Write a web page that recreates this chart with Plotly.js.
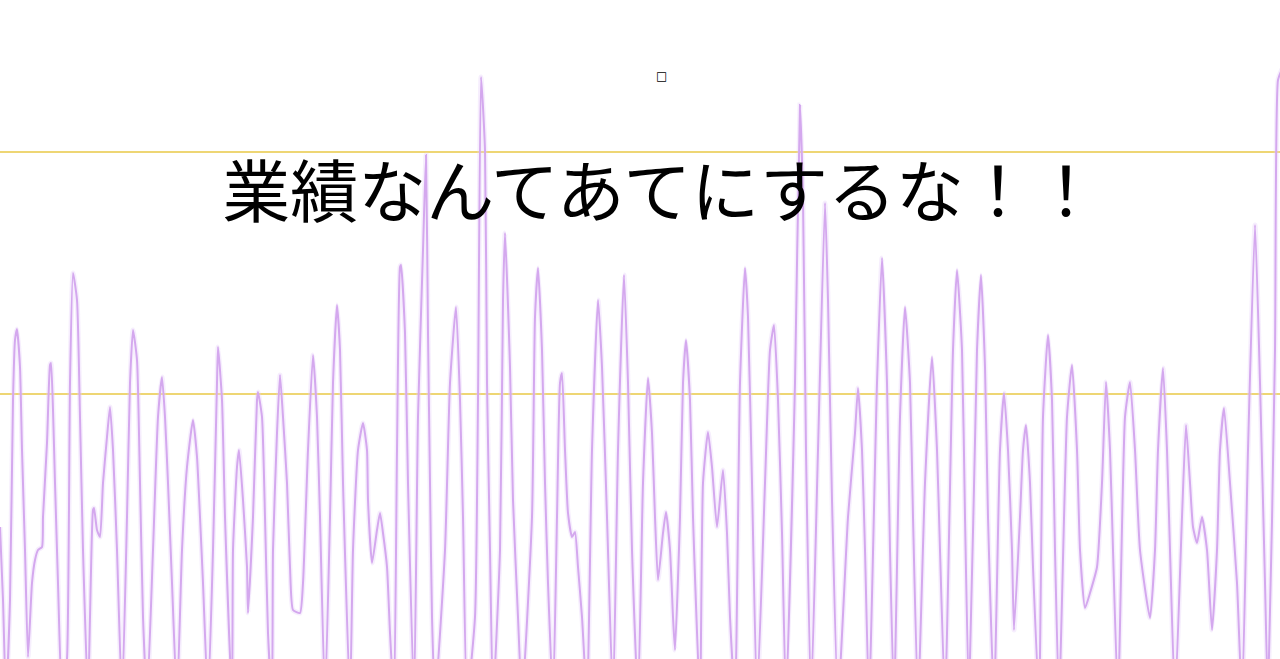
<!DOCTYPE html>
<html>
<head>
<meta charset="utf-8">
<script src="https://cdn.plot.ly/plotly-3.0.1.min.js"></script>
<style>html,body{margin:0;padding:0;background:#fff;}#chart{width:1280px;height:659px;}</style>
</head>
<body>
<div id="chart"></div>
<script>
// time positions
var t = [
  0,3,6,10,13,15,17,20,22,25,28,32,35,38,42,43,47,50,51,53,55,58,62,
  67,70,73,77,80,83,88,90,93,94,97,100,103,107,110,113,117,122,
  127,130,133,137,140,143,147,153,158,162,165,168,172,177,
  182,187,193,197,200,203,208,213,217,218,222,225,232,
  233,237,239,243,247,248,253,257,258,262,265,268,272,
  273,277,280,283,287,290,293,300,303,308,313,317,320,325,
  330,333,337,340,343,350,353,358,363,367,368,372,377,380,383,387,390,394,
  397,400,401,405,408,414,418,423,426,428,430,432,435,
  445,450,456,460,463,467,475,478,481,485,487,490,493,
  500,503,505,510,513,518,522,532,535,538,542,545,548,553,
  557,560,562,565,568,572,575,578,582,587,592,598,602,607,613,
  618,624,628,632,638,643,648,652,655,658,663,666,670,673,675,680,683,686,690,693,700,
  703,708,712,717,723,727,730,735,740,745,748,752,757,
  765,770,774,778,782,786,795,800,803,806,811,818,825,828,832,838,
  848,855,858,862,865,869,877,882,887,890,894,900,905,910,913,918,
  925,932,937,940,945,953,957,962,965,969,977,981,985,988,994,
  1000,1004,1008,1012,1014,1020,1023,1026,1030,1033,1039,1043,1048,1052,1055,1059,
  1067,1072,1077,1080,1085,1090,1097,1102,1106,1110,1113,1118,
  1125,1130,1135,1140,1150,1155,1158,1163,1167,1170,1175,
  1182,1186,1190,1193,1197,1202,1207,1212,1217,1220,1224,1230,1237,1242,
  1248,1255,1260,1265,1268,1275,1278,1282
];
// series values
var v = [
  132,59,-41,59,259,319,330,292,209,109,2,76,99,109,112,142,216,294,296,249,176,76,-41,
  0,276,386,359,242,109,-41,42,149,151,129,122,176,222,252,209,109,-41,
  142,276,329,299,176,42,-41,109,242,282,242,176,76,-41,
  109,192,239,202,142,76,-41,109,276,312,259,142,-41,
  109,192,209,159,92,46,142,259,267,242,142,26,-41,
  109,226,284,242,176,92,49,46,76,209,304,242,142,-41,
  142,276,354,309,176,-41,109,209,236,209,159,96,129,146,126,92,26,-41,
  209,392,394,326,176,-41,242,409,504,326,176,42,-41,
  109,276,352,259,142,-41,42,259,582,509,276,109,-41,
  109,359,426,292,159,42,-41,142,342,391,309,176,76,-41,
  142,276,286,209,146,122,127,92,42,-41,209,359,292,142,-41,
  209,384,276,109,-41,176,281,226,142,79,126,147,109,42,9,142,276,319,259,142,-41,
  176,227,192,132,189,126,42,-41,276,391,342,176,-41,
  176,309,334,259,126,-41,276,554,459,209,-41,209,456,359,159,-41,
  142,226,271,209,109,-41,276,401,276,109,-41,242,352,276,142,-41,
  176,302,209,109,-41,309,389,309,142,-41,309,384,292,142,-41,
  209,266,209,109,29,142,209,234,176,92,-41,242,324,259,109,-41,
  242,294,209,109,51,66,92,176,277,209,109,-41,
  242,277,209,109,41,109,209,291,209,109,-41,
  142,234,176,132,116,142,109,29,109,209,251,176,76,-41,
  209,434,276,76,-41,309,579,590
];
// reference levels (yellow lines)
var refLevels = [507, 265];
var titleText = "業績なんてあてにするな！！";
var markText = "□";

var traces = [
  {x: t, y: v, type: 'scatter', mode: 'lines', hoverinfo: 'skip',
   line: {color: 'rgba(230,205,248,0.35)', width: 5, shape: 'spline', smoothing: 0.5}},
  {x: t, y: v, type: 'scatter', mode: 'lines',
   line: {color: 'rgb(212,168,238)', width: 2, shape: 'spline', smoothing: 0.5}}
];

var shapes = refLevels.map(function (lv) {
  return {type: 'line', xref: 'paper', x0: 0, x1: 1, yref: 'y', y0: lv, y1: lv,
          line: {color: 'rgb(232,200,70)', width: 1.3}, layer: 'below'};
});

var layout = {
  width: 1280, height: 659,
  margin: {l: 0, r: 0, t: 0, b: 0, pad: 0},
  paper_bgcolor: '#ffffff', plot_bgcolor: '#ffffff',
  showlegend: false,
  xaxis: {range: [0, 1280], visible: false, fixedrange: true},
  yaxis: {range: [0, 659], visible: false, fixedrange: true},
  shapes: shapes,
  title: {text: titleText, x: 0.5165, xref: 'paper', xanchor: 'center',
          y: 0.707, yref: 'container', yanchor: 'middle',
          font: {family: '"Noto Sans CJK JP", "Noto Sans", sans-serif', size: 68, color: '#000000'}},
  annotations: [{text: markText, xref: 'paper', yref: 'paper', x: 661/1280, y: 1 - 76/659,
                 showarrow: false, xanchor: 'center', yanchor: 'middle',
                 font: {family: '"DejaVu Sans", sans-serif', size: 12, color: '#000000'}}]
};

Plotly.newPlot('chart', traces, layout, {displayModeBar: false, staticPlot: true});
</script>
</body>
</html>
